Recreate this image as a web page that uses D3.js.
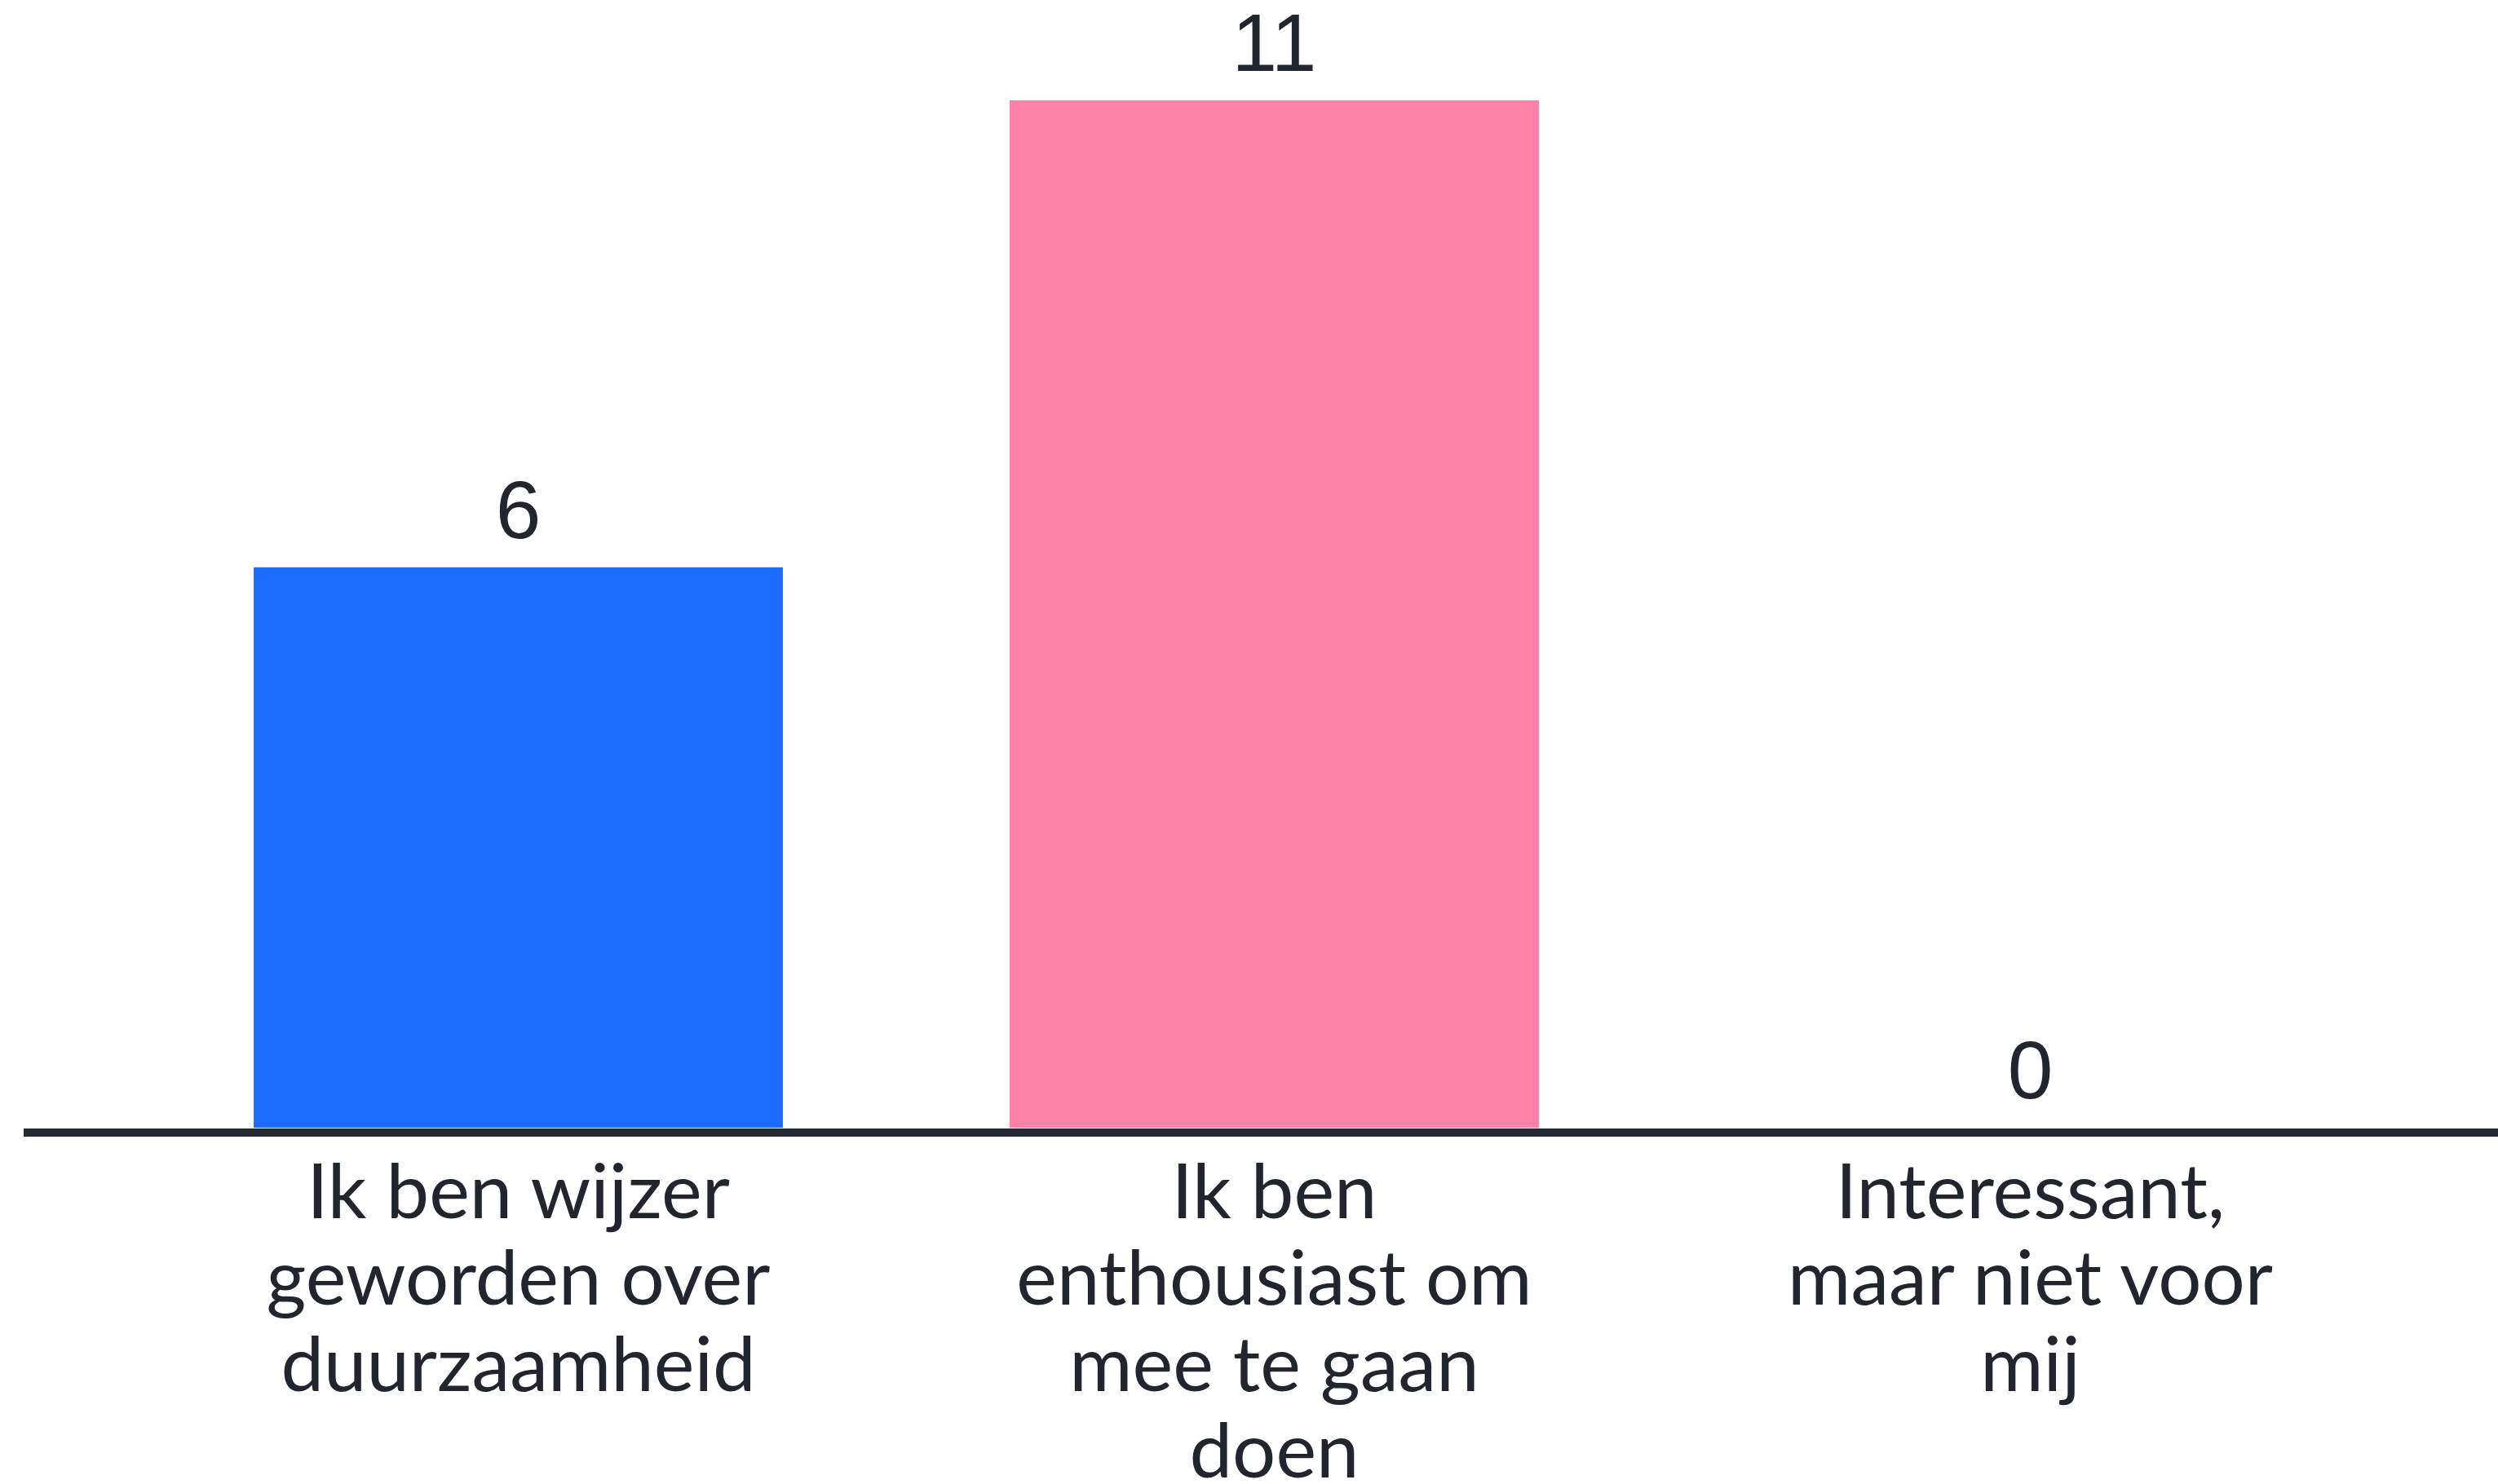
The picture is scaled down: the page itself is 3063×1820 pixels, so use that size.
<!DOCTYPE html>
<html>
<head>
<meta charset="utf-8">
<script src="https://cdn.jsdelivr.net/npm/d3@7"></script>
<style>
  html, body { margin: 0; padding: 0; background: #ffffff; }
  svg { display: block; }
</style>
</head>
<body>
<svg id="chart" width="3063" height="1820"></svg>
<script>
// ---- data ----
const categories = [
  "Ik ben wijzer geworden over duurzaamheid",
  "Ik ben enthousiast om mee te gaan doen",
  "Interessant, maar niet voor mij"
];
const values = [6, 11, 0];
const tickLabels = [
  ["Ik ben wijzer", "geworden over", "duurzaamheid"],
  ["Ik ben", "enthousiast om", "mee te gaan", "doen"],
  ["Interessant,", "maar niet voor", "mij"]
];
const barColors = ["#1c6bff", "#ff80a9", "#1c6bff"];

// ---- layout ----
const W = 3063, H = 1820;
const baseY = 1383;
const topY = 123;
const svg = d3.select("#chart");
const textColor = "#22252e";

const x = d3.scaleBand()
  .domain(categories)
  .range([172, 2953])
  .paddingInner(0.3)
  .paddingOuter(0.15);

const y = d3.scaleLinear()
  .domain([0, d3.max(values)])
  .range([baseY, topY]);

// bars
svg.append("g").selectAll("rect")
  .data(categories)
  .join("rect")
  .attr("x", d => x(d))
  .attr("width", x.bandwidth())
  .attr("y", (d, i) => y(values[i]))
  .attr("height", (d, i) => baseY - y(values[i]))
  .attr("fill", (d, i) => barColors[i]);

// value labels
svg.append("g").selectAll("text")
  .data(categories)
  .join("text")
  .attr("x", d => x(d) + x.bandwidth() / 2)
  .attr("y", (d, i) => y(values[i]) - 36)
  .attr("text-anchor", "middle")
  .attr("font-family", "'Liberation Sans', Arial, sans-serif")
  .attr("font-size", 100)
  .attr("fill", textColor)
  .text((d, i) => values[i]);

// baseline axis line
svg.append("line")
  .attr("x1", 29).attr("x2", W)
  .attr("y1", baseY + 6).attr("y2", baseY + 6)
  .attr("stroke", "#252830")
  .attr("stroke-width", 10);

// category labels via axis
const axis = d3.axisBottom(x).tickSize(0).tickFormat(() => "");
const gAxis = svg.append("g")
  .attr("transform", `translate(0,${baseY})`)
  .call(axis);
gAxis.select(".domain").remove();

gAxis.selectAll(".tick").each(function(d, i) {
  const t = d3.select(this).append("text")
    .attr("text-anchor", "middle")
    .attr("font-family", "Lato, 'Noto Sans', sans-serif")
    .attr("font-weight", 400)
    .attr("font-size", 94)
    .attr("fill", textColor);
  tickLabels[i].forEach((line, j) => {
    t.append("tspan")
      .attr("x", 0)
      .attr("y", 111 + j * 106)
      .text(line);
  });
});
</script>
</body>
</html>
